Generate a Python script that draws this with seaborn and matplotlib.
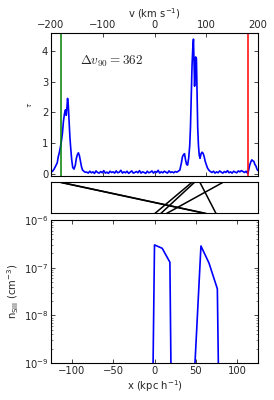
import numpy as np
import pandas as pd
import seaborn as sns
import matplotlib
matplotlib.use("Agg")
import matplotlib.pyplot as plt

# optical depth spectrum (velocity in km/s)
vel_left = [-200, -197, -194, -191, -188, -186, -184, -182, -180, -178, -176, -174, -172, -170.5,
            -169, -168, -166.5, -165, -163.5, -162, -160, -158, -155.5, -153, -151, -149, -147,
            -145, -143, -141, -139, -136, -134]
tau_left = [0.05, 0.08, 0.15, 0.25, 0.35, 0.55, 0.68, 0.85, 1.05, 1.3, 1.7, 1.95, 2.08, 1.9,
            2.2, 2.45, 2.2, 1.7, 1.2, 0.85, 0.45, 0.2, 0.15, 0.28, 0.5, 0.62, 0.68,
            0.58, 0.4, 0.22, 0.12, 0.07, 0.05]
vel_noise1 = [-131, -128, -125, -122, -119, -116, -113, -110, -107, -104, -101, -98, -95, -92,
              -89, -86, -83, -80, -77, -74, -71, -68, -65, -62, -59, -56, -53, -50, -47, -44,
              -41, -38, -35, -32, -29, -26, -23, -20, -17, -14, -11, -8, -5, -2, 1, 4, 7, 10,
              13, 16, 19, 22, 25, 28, 31, 34, 37, 40, 43, 46]
tau_noise1 = [0.05, 0.02, 0.08, 0.03, 0.06, 0.01, 0.09, 0.04, 0.02, 0.07, 0.03, 0.10, 0.02, 0.05,
              0.01, 0.08, 0.04, 0.06, 0.02, 0.09, 0.03, 0.05, 0.11, 0.02, 0.06, 0.03, 0.08, 0.01,
              0.05, 0.09, 0.02, 0.04, 0.07, 0.03, 0.10, 0.02, 0.06, 0.04, 0.01, 0.08, 0.03, 0.05,
              0.09, 0.02, 0.07, 0.04, 0.11, 0.02, 0.06, 0.03, 0.08, 0.05, 0.02, 0.09, 0.04, 0.06,
              0.03, 0.07, 0.05, 0.08]
vel_main = [49, 52, 54, 56, 58, 60, 62, 64, 66, 68, 69.5, 71, 72.5, 74, 75.3, 76.5, 77.5, 78.5,
            79.5, 81, 82.3, 83.5, 85, 86.5, 88, 90, 92, 94, 96, 98, 100, 102, 104, 106, 108]
tau_main = [0.12, 0.35, 0.55, 0.62, 0.65, 0.45, 0.3, 0.28, 0.5, 0.9, 1.5, 2.5, 3.5, 4.1, 4.38,
            3.5, 2.85, 3.4, 3.8, 3.75, 2.5, 1.5, 0.9, 0.6, 0.5, 0.65, 0.7, 0.66, 0.55, 0.4, 0.3,
            0.2, 0.14, 0.1, 0.07]
vel_noise2 = [111, 114, 117, 120, 123, 126, 129, 132, 135, 138, 141, 144, 147, 150, 153, 156,
              159, 162, 165, 168, 171, 174, 177]
tau_noise2 = [0.04, 0.08, 0.02, 0.06, 0.03, 0.09, 0.05, 0.02, 0.07, 0.04, 0.1, 0.03, 0.06, 0.02,
              0.08, 0.05, 0.03, 0.09, 0.06, 0.1, 0.07, 0.04, 0.08]
vel_right = [179, 180.5, 182, 184, 186, 188, 190, 192, 194, 196, 198, 200]
tau_right = [0.03, 0.01, 0.12, 0.28, 0.38, 0.45, 0.42, 0.4, 0.3, 0.25, 0.15, 0.1]

v90_low = -181
v90_high = 181
dv90 = 362

# SiII number density along the sightline
pos_x = [-9.3, 0, 9.3, 18.6, 27.9, 46.4, 56.1, 65.8, 75.9, 85.6]
n_si2 = [1e-20, 3.0e-7, 2.55e-7, 1.3e-7, 1e-23, 1.4e-10, 2.85e-7, 1.25e-7, 3.6e-8, 1e-20]

# mapping real-space position -> velocity-space position
map_pos = [0.4, 7.6, 14.5, 61.5, 62.5, 74.3]
map_vel = [71.9, 76.9, 131.8, -181, -179, 87.9]

box_half = 125

spec = pd.DataFrame({
    "v": vel_left + vel_noise1 + vel_main + vel_noise2 + vel_right,
    "tau": tau_left + tau_noise1 + tau_main + tau_noise2 + tau_right,
})
dens = pd.DataFrame({"x": pos_x, "n": n_si2})

rows = []
for i, (p, v) in enumerate(zip(map_pos, map_vel)):
    rows.append({"seg": i, "xm": v, "ym": 1.0})
    rows.append({"seg": i, "xm": p * 200.0 / box_half, "ym": 0.0})
mapping = pd.DataFrame(rows)

sns.set_style("ticks", rc={
    "xtick.direction": "in", "ytick.direction": "in",
    "axes.edgecolor": "black", "axes.linewidth": 0.8,
})
plt.rcParams["font.family"] = ["DejaVu Sans"]
fs = 7.2

fig = plt.figure(figsize=(2.74, 4.0), dpi=100)
ax_top = fig.add_axes([51 / 274, 1 - 176 / 400, 207 / 274, 143 / 400])
ax_mid = fig.add_axes([51 / 274, 1 - 213.5 / 400, 207 / 274, 31 / 400])
ax_bot = fig.add_axes([51 / 274, 1 - 363 / 400, 207 / 274, 143 / 400])

# top: spectrum
sns.lineplot(data=spec, x="v", y="tau", ax=ax_top, color="#0000ff", lw=1.2,
             sort=False, estimator=None)
ax_top.axvline(v90_low, color="#008000", lw=1.1)
ax_top.axvline(v90_high, color="#ff0000", lw=1.1)
ax_top.set_xlim(-200, 200)
ax_top.set_ylim(-0.075, 4.58)
ax_top.set_xticks([-200, -100, 0, 100, 200])
ax_top.set_yticks([0, 1, 2, 3, 4])
ax_top.xaxis.tick_top()
ax_top.xaxis.set_label_position("top")
ax_top.tick_params(top=True, bottom=True, left=True, right=True, labelsize=fs,
                   length=3, width=0.6, pad=2)
ax_top.set_xlabel("v (km s$^{-1}$)", fontsize=fs, labelpad=2)
ax_top.set_ylabel(r"$\tau$", fontsize=5, labelpad=6)
ax_top.text(-144, 3.65, r"$\Delta v_{90} = %d$" % dv90, fontsize=9.5,
            math_fontfamily="cm", va="center", ha="left")

# middle: position -> velocity mapping
sns.lineplot(data=mapping, x="xm", y="ym", units="seg", estimator=None, sort=False,
             ax=ax_mid, color="black", lw=1.1)
ax_mid.set_xlim(-200, 200)
ax_mid.set_ylim(0, 1)
ax_mid.set_xticks([])
ax_mid.set_yticks([])
ax_mid.set_xlabel("")
ax_mid.set_ylabel("")

# bottom: density
sns.lineplot(data=dens, x="x", y="n", ax=ax_bot, color="#0000ff", lw=1.2,
             sort=False, estimator=None)
ax_bot.set_yscale("log")
ax_bot.set_xlim(-box_half, box_half)
ax_bot.set_ylim(1e-9, 1e-6)
ax_bot.set_xticks([-100, -50, 0, 50, 100])
ax_bot.tick_params(which="both", top=True, bottom=True, left=True, right=True,
                   labelsize=fs, pad=2)
ax_bot.tick_params(which="major", length=3, width=0.6)
ax_bot.tick_params(which="minor", length=1.5, width=0.4)
ax_bot.set_xlabel("x (kpc h$^{-1}$)", fontsize=fs, labelpad=2)
ax_bot.set_ylabel(r"n$_{\rm SiII}$ (cm$^{-3}$)", fontsize=fs, labelpad=2)

fig.savefig("out.png", dpi=100)
